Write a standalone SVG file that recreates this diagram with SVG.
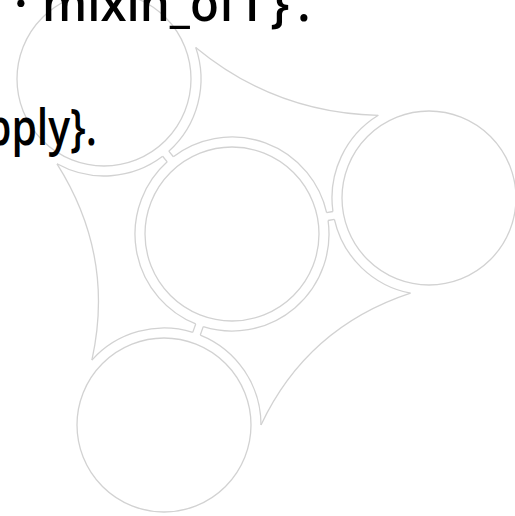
<svg xmlns="http://www.w3.org/2000/svg" width="515" height="516" viewBox="0 0 515 516">
  <style>
    .ln { fill: none; stroke: #d2d2d2; stroke-width: 1.3; }
    .txt { font-family: "Open Sans", "Noto Sans", sans-serif; font-size: 50px; font-weight: 600; fill: #000; }
  </style>
  <rect width="515" height="516" fill="#fff"/>
  <g id="shape">
    <g id="circle-top-left">
      <circle class="ln" cx="104" cy="79" r="87"/>
      <path class="ln" d="M195.7,47.4 A97,97 0 0 1 168.8,151.18 M162.64,156.28 A97,97 0 0 1 57,163.8"/>
    </g>
    <g id="circle-center">
      <circle class="ln" cx="232" cy="234" r="87"/>
      <path class="ln" d="M173.36,156.72 A97,97 0 0 1 326.62,212.64 M328.06,220.5 A97,97 0 0 1 203.26,326.65 M195.72,323.97 A97,97 0 0 1 167.2,161.82"/>
    </g>
    <g id="circle-right">
      <circle class="ln" cx="429" cy="198" r="87"/>
      <path class="ln" d="M378.3,115.3 A97,97 0 0 0 332.94,211.5 M334.38,219.36 A97,97 0 0 0 410.5,293.2"/>
    </g>
    <g id="circle-bottom">
      <circle class="ln" cx="164" cy="425" r="87"/>
      <path class="ln" d="M261,425 A97,97 0 0 0 200.28,335.03 M192.74,332.35 A97,97 0 0 0 91.9,360.1"/>
    </g>
  </g>
  <g id="connectors">
    <path class="ln" d="M195.7,47.4 Q275,113 378.3,115.3"/>
    <path class="ln" d="M410.5,293.2 Q307,327.5 261,425"/>
    <path class="ln" d="M91.9,360.1 Q115,255.6 57,163.8"/>
    <path class="ln" d="M168.8,151.18 L173.36,156.72 M162.64,156.28 L167.2,161.82"/>
    <path class="ln" d="M326.62,212.64 L332.94,211.5 M328.06,220.5 L334.38,219.36"/>
    <path class="ln" d="M203.26,326.65 L200.28,335.03 M195.72,323.97 L192.74,332.35"/>
  </g>
  <g id="labels">
    <text class="txt" y="21"><tspan x="14">·</tspan> <tspan x="42" textLength="194" lengthAdjust="spacingAndGlyphs">mixin_of</tspan> <tspan x="244 270 297">f}.</tspan></text>
    <text class="txt" x="-14" y="145" textLength="111" lengthAdjust="spacingAndGlyphs">pply}.</text>
  </g>
</svg>
